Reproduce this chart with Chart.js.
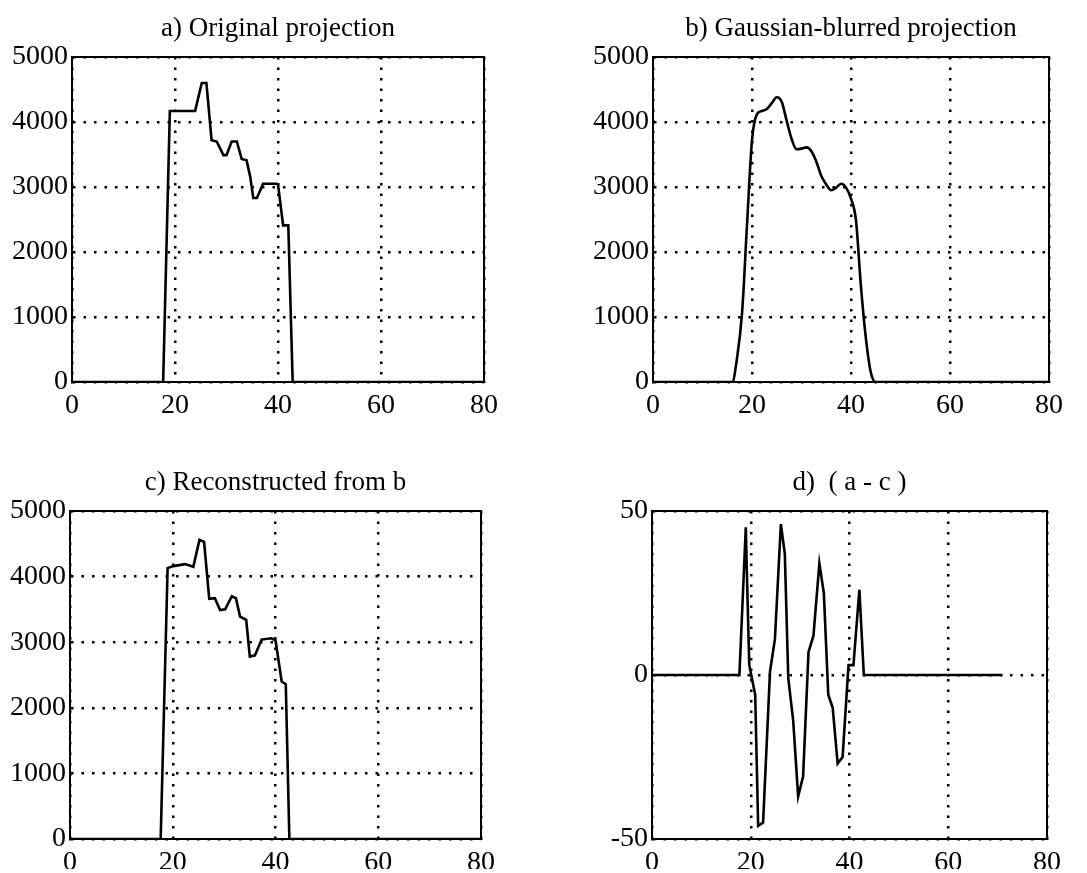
<!DOCTYPE html>
<html><head><meta charset="utf-8">
<script src="https://cdn.jsdelivr.net/npm/chart.js@4.4.0/dist/chart.umd.min.js"></script>
<style>
html,body{margin:0;padding:0;background:#fff;}
body{width:1087px;height:873px;position:relative;overflow:hidden;}
canvas{position:absolute;}
</style></head><body>
<canvas id="ca" width="540" height="440" style="left:0;top:0"></canvas>
<canvas id="cb" width="547" height="440" style="left:540px;top:0"></canvas>
<canvas id="cc" width="540" height="433" style="left:0;top:440px"></canvas>
<canvas id="cd" width="547" height="433" style="left:540px;top:440px"></canvas>
<script>
// ---- data ----
const titles = ["a) Original projection", "b) Gaussian-blurred projection", "c) Reconstructed from b", "d)  ( a - c )"];
const xTicks = [0, 20, 40, 60, 80];
const yTicksProj = [0, 1000, 2000, 3000, 4000, 5000];
const yTicksDiff = [-50, 0, 50];

const aX = [0,17.7,19.0,23.9,25.2,26.1,27.1,28.1,29.4,30.0,31.0,32.0,32.95,33.9,34.6,35.2,35.9,37.1,39.7,40.0,41.0,42.0,42.85,80];
const aY = [0,0,4170,4170,4600,4600,3720,3700,3490,3490,3700,3700,3430,3410,3160,2830,2830,3050,3050,3040,2410,2410,0,0];

const bX = [0,16,17,18,19,20,21,22,23,24,25,26,27,28,29,30,31,32,33,34,35,36,37,38,39,40,41,42,43,44,45,80];
const bY = [0,0,380,1070,2430,3720,4120,4170,4200,4290,4380,4310,4020,3740,3580,3590,3610,3550,3390,3170,3040,2950,2990,3050,2990,2820,2490,1480,680,150,0,0];

const cX = [0,17.65,19.0,20.1,22.4,24.0,25.2,26.1,27.1,28.2,29.2,30.2,31.5,32.3,33.1,34.3,35.0,36.0,37.3,39.2,40.0,41.2,42.0,42.7,80];
const cY = [0,0,4130,4160,4190,4150,4560,4530,3660,3670,3490,3500,3700,3670,3390,3340,2780,2800,3040,3060,3030,2400,2360,0,0];

const dX = [0,17.7,19.0,19.2,19.7,20.9,21.5,22.5,23.9,24.9,26.1,26.9,27.6,28.6,29.6,30.6,31.7,32.7,33.9,34.8,35.7,36.6,37.6,38.6,39.8,40.8,42.0,42.9,71];
const dY = [0,0,45,32,3,-6,-46,-45,1,11,46,37,-1,-14,-37,-31,7,12,34,25,-6,-10,-27,-25,3,3,26,0,0];

const FONT = "'Liberation Serif', 'Times New Roman', serif";

const boxPlugin = {
  id: 'box',
  afterDatasetsDraw(chart) {
    const a = chart.chartArea, ctx = chart.ctx;
    ctx.save();
    ctx.strokeStyle = '#000';
    ctx.lineWidth = 2;
    ctx.strokeRect(a.left, a.top, a.right - a.left, a.bottom - a.top);
    ctx.restore();
  }
};

function makeChart(id, xs, ys, title, yTicks, L, smooth) {
  const pts = xs.map((x, i) => ({x: x, y: ys[i]}));
  const ds = { data: pts, borderColor: '#000', borderWidth: 2.6, pointRadius: 0, tension: 0, fill: false };
  if (smooth) ds.cubicInterpolationMode = 'monotone';
  return new Chart(document.getElementById(id), {
    type: 'line',
    data: { datasets: [ds] },
    plugins: [boxPlugin],
    options: {
      responsive: false, animation: false,
      layout: { padding: { left: 0, right: L.right, top: 0, bottom: L.bottom } },
      plugins: {
        legend: { display: false }, tooltip: { enabled: false },
        title: { display: true, text: title, color: '#000', fullSize: false,
                 font: { family: FONT, size: 27, weight: 'normal' },
                 padding: { top: L.tTop, bottom: L.tBot } }
      },
      scales: {
        x: {
          type: 'linear', min: xTicks[0], max: xTicks[xTicks.length - 1],
          afterBuildTicks: s => { s.ticks = xTicks.map(v => ({value: v})); },
          afterFit: s => { s.height = L.xH; },
          ticks: { color: '#000', font: { family: FONT, size: 28 }, padding: 7, maxRotation: 0, autoSkip: false,
                   callback: v => String(v) },
          grid: { color: '#000', lineWidth: 2.5, drawTicks: false },
          border: { color: '#000', width: 2, dash: [2.5, 8] }
        },
        y: {
          type: 'linear', min: yTicks[0], max: yTicks[yTicks.length - 1],
          afterBuildTicks: s => { s.ticks = yTicks.map(v => ({value: v})); },
          afterFit: s => { s.width = L.yW; },
          ticks: { color: '#000', font: { family: FONT, size: 28 }, padding: 4, autoSkip: false,
                   callback: v => String(v) },
          grid: { color: '#000', lineWidth: 2.5, drawTicks: false },
          border: { color: '#000', width: 2, dash: [2.5, 8] }
        }
      }
    }
  });
}

makeChart('ca', aX, aY, titles[0], yTicksProj, {right: 56, bottom: 8, xH: 50, yW: 72, tTop: 12.8, tBot: 11.8}, false);
makeChart('cb', bX, bY, titles[1], yTicksProj, {right: 38, bottom: 8, xH: 50, yW: 113, tTop: 12.8, tBot: 11.8}, true);
makeChart('cc', cX, cY, titles[2], yTicksProj, {right: 59, bottom: 4, xH: 30, yW: 70, tTop: 27.1, tBot: 11.5}, false);
makeChart('cd', dX, dY, titles[3], yTicksDiff, {right: 40, bottom: 4, xH: 30, yW: 112, tTop: 27.1, tBot: 11.5}, false);
</script>
</body></html>
